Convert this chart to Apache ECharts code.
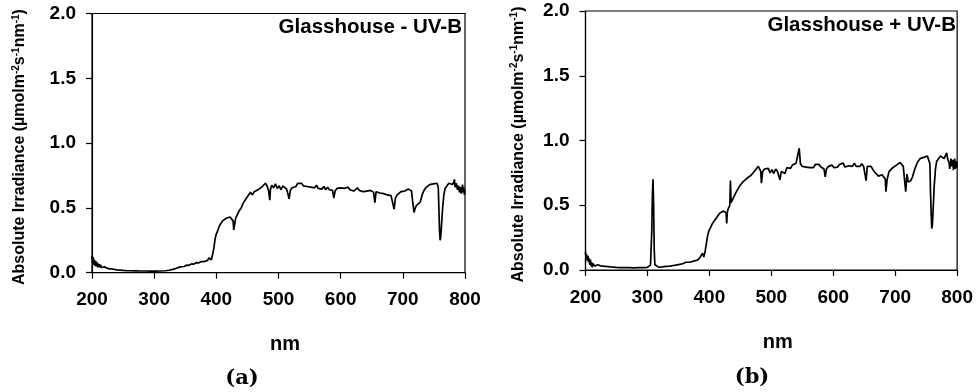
<!DOCTYPE html>
<html>
<head>
<meta charset="utf-8">
<script src="https://cdn.jsdelivr.net/npm/echarts@6/dist/echarts.min.js"></script>
<style>
html,body{margin:0;padding:0;background:#fff;}
#chart{width:976px;height:392px;}
</style>
</head>
<body>
<div id="chart"></div>
<script>
// ---- Data ----
const panelTitles = ['Glasshouse - UV-B', 'Glasshouse + UV-B'];
const captions = ['(a)', '(b)'];
const xTicks = [200, 300, 400, 500, 600, 700, 800];
const yTicks = [0.0, 0.5, 1.0, 1.5, 2.0];

// Panel (a): Glasshouse - UV-B
const wlA = [200,201,202,203,204,205,206,207,208,209,210,211,212,213,214,215,216,218,220,224,228,232,236,240,245,250,256,262,270,278,286,294,302,310,318,324,330,336,342,348,352,356,360,364,368,372,376,380,383,386,388,390,392,394,396,398,400,402,404,406,408,410,413,416,419,422,425,427,428,429,431,434,437,
  440,443,446,449,452,455,458,461,464,467,470,473,476,479,482,484,486,487,489,492,495,498,501,504,507,510,513,515,517,519,522,525,528,531,534,537,540,543,546,549,552,555,558,561,564,567,570,573,576,579,582,585,587,589,591,594,597,600,603,606,609,612,615,618,621,624,627,630,633,636,639,642,645,648,651,653,655,657,660,663,666,669,672,675,678,681,684,686,688,691,694,697,700,703,706,709,712,714,716,718,720,722,725,728,731,734,737,740,743,746,749,752,755,757,758,759,760,761,762,764,766,768,771,774,777,780,782,783,784,786,788,790,791,793,794,796,797,798,799,800];
const irrA = [0.13,0.08,0.12,0.06,0.10,0.05,0.09,0.05,0.08,0.04,0.07,0.045,0.065,0.04,0.06,0.04,0.05,0.04,0.045,0.035,0.03,0.03,0.025,0.022,0.02,0.018,0.016,0.015,0.014,0.013,0.013,0.012,0.012,0.013,0.015,0.019,0.026,0.034,0.045,0.048,0.058,0.057,0.068,0.066,0.078,0.076,0.086,0.085,0.10,0.095,0.115,0.13,0.10,0.14,0.19,0.26,0.30,0.32,0.35,0.37,0.38,0.40,0.41,0.42,0.41,0.43,0.42,0.40,0.33,0.36,0.42,0.45,0.48,
  0.50,0.535,0.545,0.58,0.595,0.62,0.60,0.625,0.615,0.64,0.635,0.66,0.65,0.69,0.665,0.635,0.56,0.64,0.675,0.655,0.685,0.65,0.67,0.64,0.67,0.655,0.645,0.61,0.57,0.635,0.655,0.67,0.665,0.69,0.675,0.69,0.67,0.685,0.665,0.68,0.66,0.675,0.655,0.675,0.65,0.665,0.645,0.665,0.64,0.66,0.64,0.655,0.635,0.575,0.63,0.65,0.64,0.655,0.64,0.65,0.645,0.66,0.64,0.65,0.63,0.645,0.655,0.635,0.645,0.625,0.64,0.63,0.64,0.635,0.65,0.62,0.54,0.625,0.635,0.615,0.63,0.61,0.615,0.60,0.605,0.595,0.60,0.49,0.575,0.60,0.60,0.625,0.615,0.63,0.625,0.645,0.635,0.63,0.54,0.465,0.50,0.52,0.525,0.545,0.60,0.635,0.655,0.665,0.68,0.665,0.685,0.67,0.69,0.66,0.50,0.33,0.25,0.28,0.35,0.50,0.60,0.65,0.665,0.69,0.675,0.68,0.70,0.72,0.66,0.69,0.64,0.67,0.62,0.66,0.61,0.68,0.62,0.66,0.60,0.64];

// Panel (b): Glasshouse + UV-B
const wlB = [200,201,202,203,204,205,206,207,208,209,210,211,212,213,214,215,216,218,220,224,228,232,236,240,245,250,256,262,270,278,286,294,300,303,305,307,308,309,310,311,312,314,318,324,330,336,342,348,354,358,362,363,365,368,372,376,380,384,387,389,391,393,395,397,399,402,405,408,411,414,417,420,423,425,427,428,429,431,433,434,435,437,
  440,443,446,449,452,455,458,461,464,467,470,473,476,479,481,483,484,486,489,492,495,498,501,504,507,510,512,514,516,519,522,525,528,531,534,537,540,543,545,547,550,553,556,559,562,565,568,571,574,577,580,583,585,587,589,592,595,598,601,604,607,610,613,616,619,622,625,628,631,634,637,640,643,646,649,651,653,655,658,661,664,667,670,673,676,679,682,684,685,687,690,693,696,699,702,705,708,711,713,715,717,719,721,723,725,728,731,734,737,740,743,746,749,752,754,756,757,758,759,760,761,763,765,767,770,773,776,779,781,783,785,787,788,790,791,793,794,796,797,799,800];
const irrB = [0.14,0.09,0.12,0.07,0.11,0.06,0.09,0.04,0.08,0.03,0.06,0.02,0.05,0.035,0.05,0.03,0.045,0.035,0.04,0.032,0.03,0.028,0.026,0.024,0.022,0.02,0.019,0.018,0.018,0.017,0.018,0.019,0.02,0.025,0.04,0.30,0.58,0.70,0.50,0.15,0.04,0.025,0.022,0.024,0.028,0.03,0.035,0.04,0.045,0.05,0.06,0.075,0.055,0.06,0.065,0.07,0.075,0.09,0.10,0.13,0.10,0.14,0.20,0.26,0.30,0.33,0.36,0.38,0.40,0.42,0.44,0.45,0.455,0.46,0.44,0.36,0.45,0.48,0.50,0.69,0.52,0.54,
  0.57,0.60,0.615,0.65,0.655,0.685,0.69,0.71,0.715,0.73,0.735,0.765,0.76,0.80,0.78,0.76,0.67,0.76,0.78,0.765,0.785,0.75,0.775,0.745,0.78,0.76,0.745,0.695,0.76,0.775,0.745,0.79,0.80,0.785,0.81,0.795,0.825,0.81,0.94,0.82,0.80,0.815,0.795,0.81,0.79,0.805,0.79,0.815,0.80,0.815,0.795,0.805,0.78,0.72,0.78,0.80,0.79,0.81,0.79,0.805,0.795,0.815,0.80,0.825,0.795,0.79,0.805,0.82,0.80,0.825,0.80,0.81,0.80,0.82,0.80,0.79,0.69,0.80,0.81,0.80,0.775,0.755,0.74,0.725,0.73,0.735,0.75,0.70,0.605,0.70,0.76,0.775,0.79,0.805,0.81,0.815,0.83,0.825,0.80,0.70,0.605,0.74,0.68,0.67,0.69,0.72,0.77,0.81,0.84,0.86,0.865,0.87,0.875,0.88,0.885,0.82,0.60,0.45,0.32,0.35,0.44,0.65,0.78,0.84,0.86,0.88,0.87,0.86,0.875,0.905,0.85,0.83,0.78,0.86,0.80,0.85,0.77,0.86,0.78,0.84,0.79];

// ---- Build ----
const FONT = '"Liberation Sans", Arial, sans-serif';
const yName = '{a|Absolute Irradiance (µmolm}{s|-2}{a|s}{s|-1}{a|nm}{s|-1}{a|)}';
const grids = [
  {left: 92, top: 13.5, width: 373, height: 259.2},
  {left: 585.5, top: 11, width: 372.5, height: 259}
];
const yNameGaps = [63, 58];
function pairs(xs, ys){ return xs.map((x,i)=>[x, ys[i]]); }

const xAxes = grids.map((g,i)=>({
  type:'value', gridIndex:i, min:xTicks[0], max:xTicks[xTicks.length-1], interval:100,
  axisLine:{show:true, lineStyle:{color:'#000', width:1.2}},
  axisTick:{show:true, inside:false, length:6, lineStyle:{color:'#000', width:1.2}},
  axisLabel:{color:'#000', fontFamily:FONT, fontWeight:'bold', fontSize:19, margin:18},
  splitLine:{show:false},
  name:'nm', nameLocation:'middle', nameGap:62,
  nameTextStyle:{color:'#000', fontFamily:FONT, fontWeight:'bold', fontSize:20, padding:[0,0,0,13]}
}));
const yAxes = grids.map((g,i)=>({
  type:'value', gridIndex:i, min:yTicks[0], max:yTicks[yTicks.length-1], interval:0.5,
  axisLine:{show:true, lineStyle:{color:'#000', width:1.2}},
  axisTick:{show:true, inside:false, length:6, lineStyle:{color:'#000', width:1.2}},
  axisLabel:{color:'#000', fontFamily:FONT, fontWeight:'bold', fontSize:19, margin:16,
    formatter:(v)=>v.toFixed(1)},
  splitLine:{show:false},
  name:yName, nameLocation:'middle', nameGap:yNameGaps[i], nameRotate:90,
  nameTextStyle:{
    color:'#000', padding:[0,0,0,-8],
    rich:{
      a:{fontFamily:FONT, fontWeight:'bold', fontSize:16, color:'#000', lineHeight:18},
      s:{fontFamily:FONT, fontWeight:'bold', fontSize:10, color:'#000', verticalAlign:'top', lineHeight:10}
    }
  }
}));

const series = [pairs(wlA, irrA), pairs(wlB, irrB)].map((d,i)=>({
  type:'line', xAxisIndex:i, yAxisIndex:i, data:d, showSymbol:false, symbol:'none',
  lineStyle:{color:'#000', width:1.7}, smooth:false, silent:true
}));

const graphics = [
  {type:'text', x:462, y:27, style:{text:panelTitles[0], align:'right', verticalAlign:'middle', font:'bold 20.5px ' + FONT, fill:'#000'}},
  {type:'text', x:956, y:25, style:{text:panelTitles[1], align:'right', verticalAlign:'middle', font:'bold 20.5px ' + FONT, fill:'#000'}},
  {type:'text', x:242, y:379, style:{text:captions[0], align:'center', verticalAlign:'middle', font:'bold 21px "DejaVu Serif", serif', fill:'#000'}},
  {type:'text', x:752, y:378, style:{text:captions[1], align:'center', verticalAlign:'middle', font:'bold 21px "DejaVu Serif", serif', fill:'#000'}}
];

const chart = echarts.init(document.getElementById('chart'), null, {renderer:'canvas'});
chart.setOption({
  animation:false,
  backgroundColor:'#fff',
  grid: grids.map(g=>Object.assign({show:true, borderColor:'#000', borderWidth:1.2, backgroundColor:'transparent', containLabel:false}, g)),
  xAxis: xAxes,
  yAxis: yAxes,
  series: series,
  graphic: graphics
});
</script>
</body>
</html>
